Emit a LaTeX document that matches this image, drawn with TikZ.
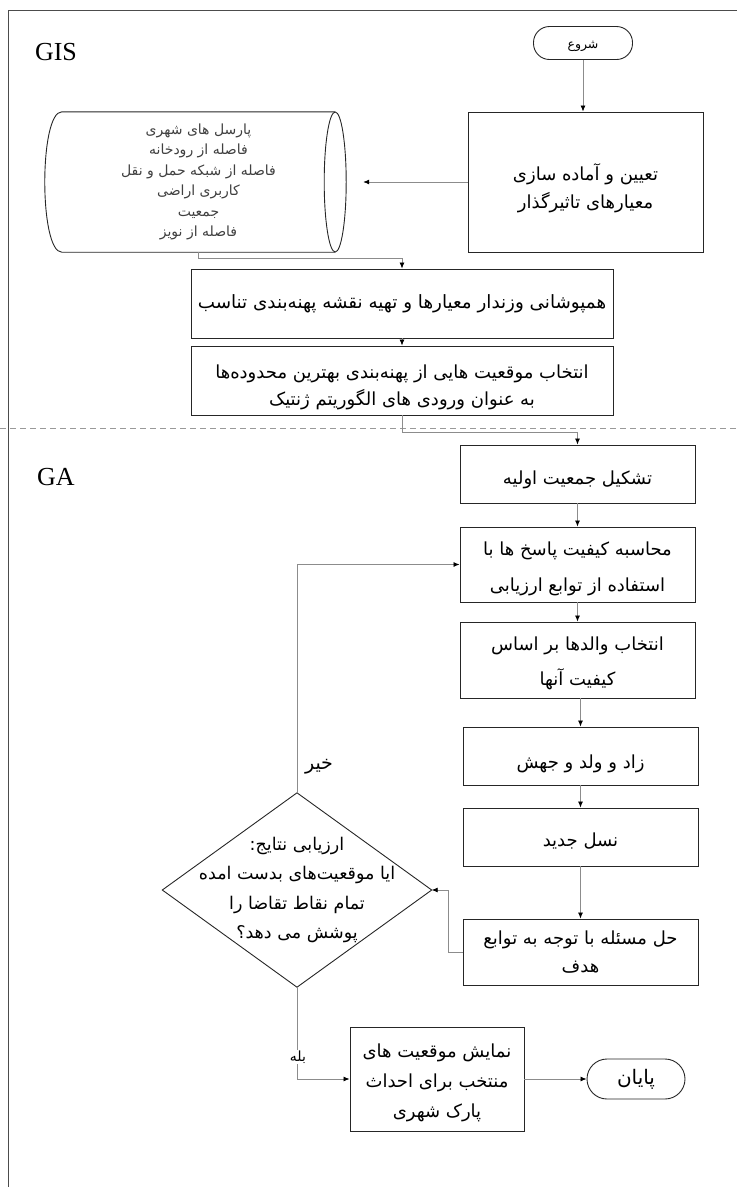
\documentclass[tikz,border=0pt]{standalone}
\usepackage{fontspec}
\setmainfont{Liberation Serif}
\newfontfamily\fa[Script=Arabic]{DejaVu Sans}
\TeXXeTstate=1
\usetikzlibrary{arrows.meta}
\newcommand\RL[1]{{\fa\beginR #1\endR}}
\newcommand\fsz[2]{\fontsize{#1}{#2}\selectfont}
% lower the ink of a (multi-line) text block by #1 without changing its box
\newcommand\lowered[2]{\raisebox{-#1}[\height][\depth]{\begin{tabular}{@{}c@{}}#2\end{tabular}}}
\begin{document}
\begin{tikzpicture}[x=1pt,y=-1pt,
  box/.style={draw=black!85, line width=0.9pt, inner sep=0pt, align=center, text=black},
  conn/.style={draw=black!45, line width=0.8pt},
  arr/.style={conn, -{Latex[length=6pt,width=5pt,color=black]}},
  term/.style={draw=black!85, line width=0.9pt, inner sep=0pt, align=center},
  lbl/.style={inner sep=1pt, font=\fsz{26}{30}\selectfont}
]
\useasboundingbox (0,0) rectangle (737,1187);
% frame
\draw[black!70, line width=1pt] (8.5,1187) -- (8.5,10) -- (737,10);
% section labels
\node[lbl] (gis) at (56,52) {GIS};
\node[lbl] (ga) at (56,477) {GA};
% dashed separator
\draw[black!40, line width=0.8pt, dash pattern=on 6pt off 4pt] (0,428) -- (737,428);

% start
\node[term, rounded corners=16pt, minimum width=99pt, minimum height=33pt, font=\fsz{12.5}{15}] (start) at (583,43) {\lowered{2pt}{\RL{شروع}}};
% box1
\node[box, minimum width=235pt, minimum height=140pt, font=\fsz{18}{28}] (b1) at (585.5,182) {\lowered{7pt}{\RL{تعیین و آماده سازی}\\\RL{معیارهای تاثیرگذار}}};
% cylinder (data store)
\node[inner sep=0pt, minimum width=273pt, minimum height=140pt, align=center, text=black!75, font=\fsz{14}{20.5}] (cyl) at (198.5,182)
 {\RL{پارسل های شهری}\\\RL{فاصله از رودخانه}\\\RL{فاصله از شبکه حمل و نقل}\\\RL{کاربری اراضی}\\\RL{جمعیت}\\\RL{فاصله از نویز}};
\draw[black!85, line width=0.9pt] (cyl.north east) -- (cyl.north west) .. controls +(-22.7,0) and +(-22.7,0) .. (cyl.south west) -- (cyl.south east);
\draw[black!85, line width=0.9pt] (cyl.east) ellipse[x radius=11, y radius=70];
% box2, box3
\node[box, minimum width=422pt, minimum height=69pt, font=\fsz{18.3}{27}] (b2) at (402,303.5) {\RL{همپوشانی وزندار معیارها و تهیه نقشه پهنه‌بندی تناسب}};
\node[box, minimum width=422pt, minimum height=69pt, font=\fsz{18}{27.5}] (b3) at (402,380.5) {\lowered{6pt}{\RL{انتخاب موقعیت هایی از پهنه‌بندی بهترین محدوده‌ها}\\\RL{به عنوان ورودی های الگوریتم ژنتیک}}};
% GA boxes
\node[box, minimum width=235pt, minimum height=58pt, font=\fsz{18}{30}] (b4) at (577.5,474) {\lowered{4pt}{\RL{تشکیل جمعیت اولیه}}};
\node[box, minimum width=235pt, minimum height=75pt, font=\fsz{18}{36}] (b5) at (577.5,564.5) {\lowered{2pt}{\RL{محاسبه کیفیت پاسخ ها با}\\\RL{استفاده از توابع ارزیابی}}};
\node[box, minimum width=235pt, minimum height=76pt, font=\fsz{18}{35}] (b6) at (577.5,660) {\lowered{1pt}{\RL{انتخاب والدها بر اساس}\\\RL{کیفیت آنها}}};
\node[box, minimum width=235pt, minimum height=58pt, font=\fsz{18}{30}] (b7) at (580.5,756) {\lowered{6pt}{\RL{زاد و ولد و جهش}}};
\node[box, minimum width=235pt, minimum height=58pt, font=\fsz{18}{30}] (b8) at (580.5,837) {\lowered{3pt}{\RL{نسل جدید}}};
\node[box, minimum width=235pt, minimum height=66pt, font=\fsz{18}{28}] (b9) at (580.5,952) {\lowered{1pt}{\RL{حل مسئله با توجه به توابع}\\\RL{هدف}}};
% decision
\node[inner sep=0pt, minimum width=269pt, minimum height=194pt, align=center, font=\fsz{17.5}{29.5}] (dia) at (297,890)
 {\RL{ارزیابی نتایج:}\\\RL{ایا موقعیت‌های بدست امده}\\\RL{تمام نقاط تقاضا را}\\\RL{پوشش می دهد؟}};
\draw[black!85, line width=0.9pt] (dia.north) -- (dia.east) -- (dia.south) -- (dia.west) -- cycle;
% output box and end
\node[box, minimum width=174pt, minimum height=104pt, font=\fsz{18}{30}] (b10) at (437,1079) {\lowered{2pt}{\RL{نمایش موقعیت های}\\\RL{منتخب برای احداث}\\\RL{پارک شهری}}};
\node[term, rounded corners=20pt, minimum width=98pt, minimum height=40pt, font=\fsz{20}{22}] (end) at (636,1079) {\RL{پایان}};

% connectors
\draw[arr] (start.south) -- (start.south |- b1.north);
\draw[arr, shorten >=28pt] (b1.west) -- (cyl.east);
\draw[arr] (cyl.south) -- ++(0,6) -| (b2.north);
\draw[arr] (b2.south) -- (b3.north);
\draw[arr] (b3.south) -- ++(0,17) -| (b4.north);
\draw[arr] (b4.south) -- (b5.north);
\draw[arr] (b5.south) -- (b6.north);
\draw[arr] (b7.north |- b6.south) -- (b7.north);
\draw[arr] (b7.south) -- (b8.north);
\draw[arr] (b8.south) -- (b9.north);
\draw[arr] (b9.west) -- ++(-14,0) |- (dia.east);
\draw[arr] (dia.north) |- (b5.west);
\draw[arr] (dia.south) |- (b10.west);
\draw[arr] (b10.east) -- (end.west);
% branch labels
\node[font=\fsz{19}{21}, inner sep=1pt] (no) at (319,767) {\RL{خیر}};
\node[font=\fsz{14}{16}, inner sep=1pt, fill=white] (yes) at (298,1057) {\RL{بله}};
\end{tikzpicture}
\end{document}
